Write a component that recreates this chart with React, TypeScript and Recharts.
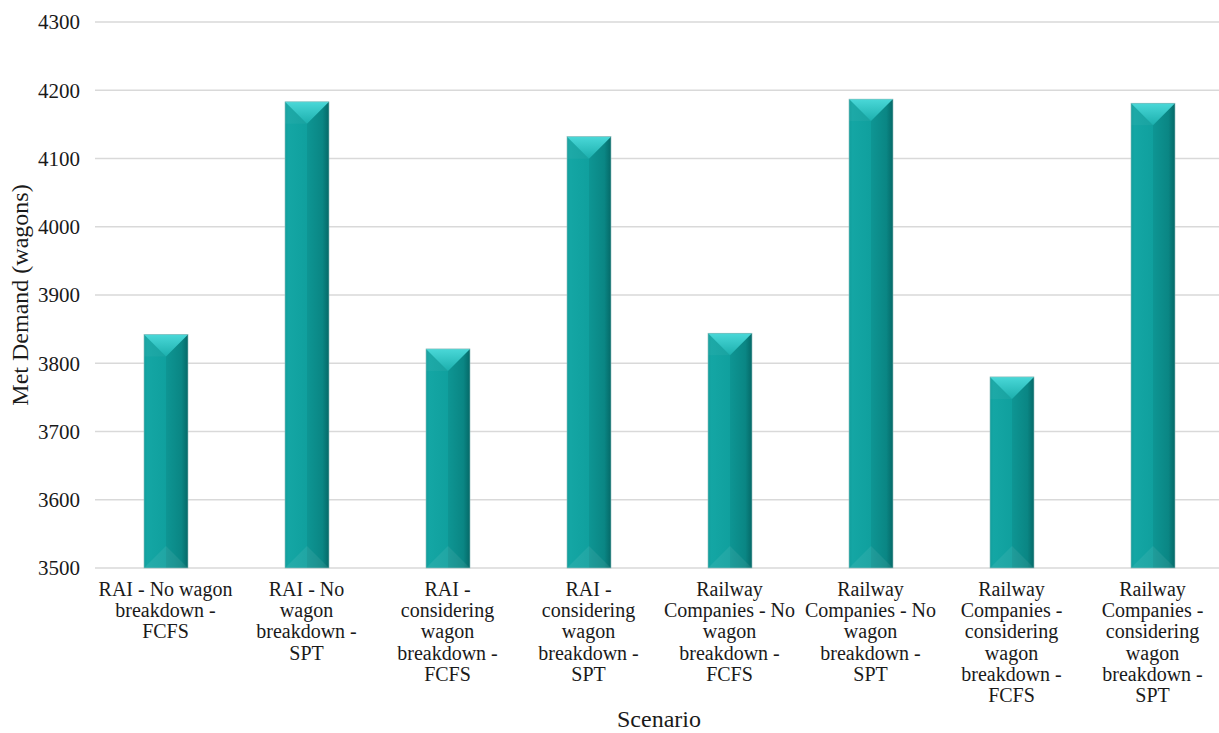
import React from 'react';
import { BarChart, Bar, XAxis, YAxis, CartesianGrid, Label } from 'recharts';

// Met demand per scenario (wagons)
const scenarios = [
  'RAI - No wagon breakdown - FCFS',
  'RAI - No wagon breakdown - SPT',
  'RAI - considering wagon breakdown - FCFS',
  'RAI - considering wagon breakdown - SPT',
  'Railway Companies - No wagon breakdown - FCFS',
  'Railway Companies - No wagon breakdown - SPT',
  'Railway Companies - considering wagon breakdown - FCFS',
  'Railway Companies - considering wagon breakdown - SPT',
];
const metDemand = [3842, 4183, 3821, 4132, 3844, 4187, 3780, 4181];

// wrapped category labels, one entry per line
const tickLines = [
  ['RAI - No wagon', 'breakdown -', 'FCFS'],
  ['RAI - No', 'wagon', 'breakdown -', 'SPT'],
  ['RAI -', 'considering', 'wagon', 'breakdown -', 'FCFS'],
  ['RAI -', 'considering', 'wagon', 'breakdown -', 'SPT'],
  ['Railway', 'Companies - No', 'wagon', 'breakdown -', 'FCFS'],
  ['Railway', 'Companies - No', 'wagon', 'breakdown -', 'SPT'],
  ['Railway', 'Companies -', 'considering', 'wagon', 'breakdown -', 'FCFS'],
  ['Railway', 'Companies -', 'considering', 'wagon', 'breakdown -', 'SPT'],
];
const yTicks = [3500, 3600, 3700, 3800, 3900, 4000, 4100, 4200, 4300];

const data = scenarios.map((name, i) => ({ name, value: metDemand[i] }));

const FONT = '"Liberation Serif", "Times New Roman", serif';
const TEXT = '#1a1a1a';

// bevelled column: shaded faces plus a light top facet and faint bottom facet
const BevelBar = (props: any) => {
  const { x, y, width: w, height: h, index } = props;
  if (!h || h <= 0) return null;
  const d = Math.min(w / 2, h / 2);
  const mid = x + w / 2;
  const gMain = `bar-main-${index}`;
  const gTop = `bar-top-${index}`;
  return (
    <g>
      <defs>
        <linearGradient id={gMain} x1="0" y1="0" x2="1" y2="0">
          <stop offset="0%" stopColor="#129f9d" />
          <stop offset="8%" stopColor="#14a6a4" />
          <stop offset="49%" stopColor="#10a09e" />
          <stop offset="51%" stopColor="#0e9593" />
          <stop offset="85%" stopColor="#0a8684" />
          <stop offset="100%" stopColor="#056968" />
        </linearGradient>
        <linearGradient id={gTop} x1="0" y1="0" x2="0" y2="1">
          <stop offset="0%" stopColor="#4ad8d8" />
          <stop offset="100%" stopColor="#1cafad" />
        </linearGradient>
      </defs>
      <rect x={x} y={y} width={w} height={h} fill={`url(#${gMain})`} />
      <polygon points={`${x},${y} ${x + w},${y} ${mid},${y + d}`} fill={`url(#${gTop})`} />
      <polygon points={`${x},${y} ${mid},${y + d} ${x},${y + d}`} fill="#ffffff" fillOpacity={0.04} />
      <polygon points={`${x},${y + h} ${mid},${y + h - d} ${x + w},${y + h}`} fill="#ffffff" fillOpacity={0.07} />
      <rect x={x} y={y} width={w} height={h} fill="none" stroke="#8fbcbb" strokeWidth={0.6} />
    </g>
  );
};

const ScenarioTick = (props: any) => {
  const { x, y, index } = props;
  const lines = tickLines[index] || [];
  return (
    <text x={x} y={y + 26} textAnchor="middle" fill={TEXT} fontFamily={FONT} fontSize={20}>
      {lines.map((line, i) => (
        <tspan key={i} x={x} dy={i === 0 ? 0 : 21.2}>
          {line}
        </tspan>
      ))}
    </text>
  );
};

export default function App() {
  return (
    <div
      style={{
        position: 'absolute',
        left: 0,
        top: 0,
        width: 1219,
        height: 733,
        overflow: 'hidden',
        background: '#ffffff',
      }}
    >
      <BarChart
        width={1223}
        height={733}
        data={data}
        margin={{ top: 22, right: 0, left: 0, bottom: 0 }}
      >
        <CartesianGrid vertical={false} stroke="#d9d9d9" strokeWidth={1.5} />
        <XAxis
          dataKey="name"
          height={165}
          axisLine={false}
          tickLine={false}
          tickSize={0}
          interval={0}
          tick={<ScenarioTick />}
        >
          <Label
            content={(p: any) => {
              const vb = p.viewBox;
              return (
                <text
                  x={vb.x + vb.width / 2}
                  y={vb.y + 151}
                  textAnchor="middle"
                  dominantBaseline="central"
                  fill={TEXT}
                  fontFamily={FONT}
                  fontSize={24}
                >
                  Scenario
                </text>
              );
            }}
          />
        </XAxis>
        <YAxis
          width={95}
          domain={[3500, 4300]}
          ticks={yTicks}
          interval={0}
          axisLine={false}
          tickLine={false}
          tickSize={0}
          tickMargin={15}
          tick={{ fill: TEXT, fontFamily: FONT, fontSize: 21 }}
        >
          <Label
            content={(p: any) => {
              const vb = p.viewBox;
              const cx = 20;
              const cy = vb.y + vb.height / 2;
              return (
                <text
                  x={cx}
                  y={cy}
                  textAnchor="middle"
                  dominantBaseline="central"
                  transform={`rotate(-90, ${cx}, ${cy})`}
                  fill={TEXT}
                  fontFamily={FONT}
                  fontSize={24}
                >
                  Met Demand (wagons)
                </text>
              );
            }}
          />
        </YAxis>
        <Bar dataKey="value" barSize={44} shape={<BevelBar />} isAnimationActive={false} />
      </BarChart>
    </div>
  );
}
